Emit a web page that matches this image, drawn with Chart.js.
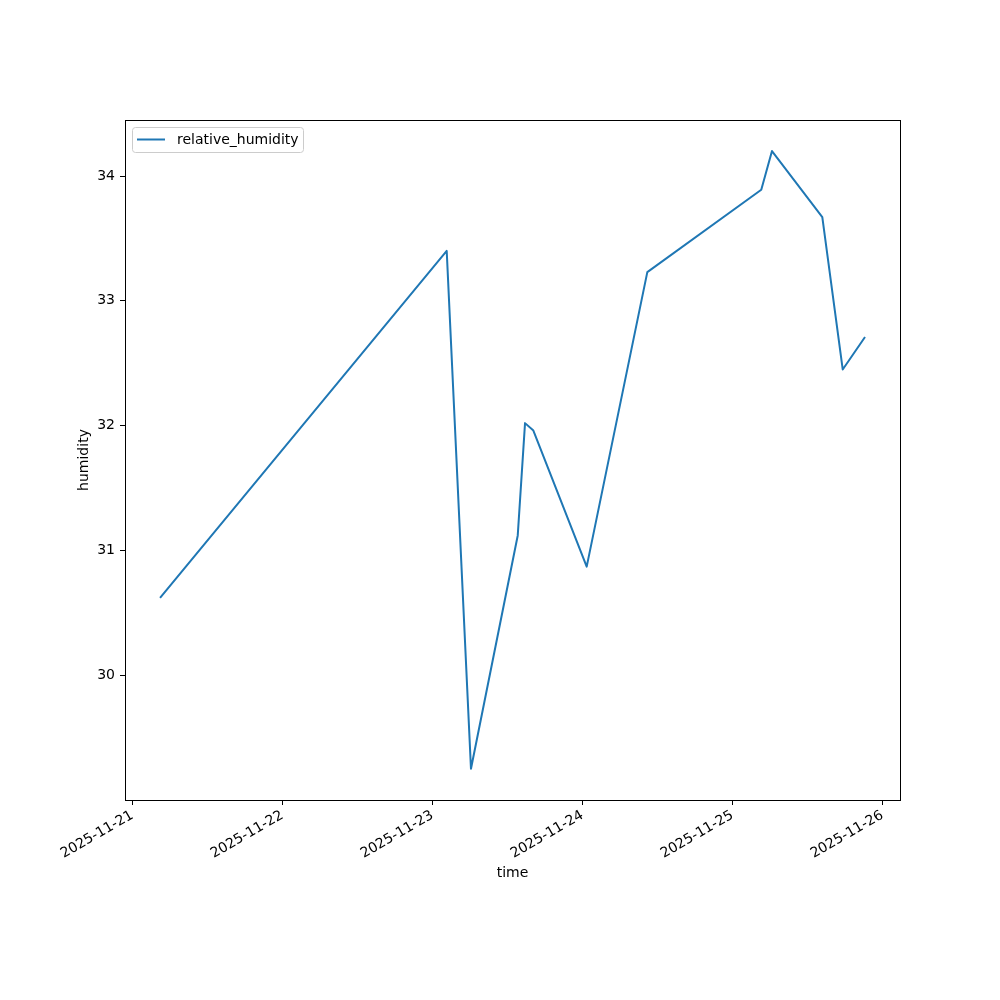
<!DOCTYPE html>
<html>
<head>
<meta charset="utf-8">
<script src="https://cdn.jsdelivr.net/npm/chart.js@4.4.1/dist/chart.umd.min.js"></script>
<style>
  html, body { margin: 0; padding: 0; background: #fff; }
  #wrap { width: 1000px; height: 1000px; }
</style>
</head>
<body>
<div id="wrap"><canvas id="myChart" width="1000" height="1000"></canvas></div>
<script>
// data
const times = [
  "2025-11-21T04:26", "2025-11-23T02:18", "2025-11-23T06:11", "2025-11-23T13:40",
  "2025-11-23T14:50", "2025-11-23T16:10", "2025-11-24T00:42", "2025-11-24T10:24",
  "2025-11-25T04:38", "2025-11-25T06:21", "2025-11-25T14:24", "2025-11-25T17:40",
  "2025-11-25T21:14"
];
const humidity = [30.62, 33.40, 29.25, 31.12, 32.02, 31.96, 30.87, 33.23, 33.89, 34.20, 33.67, 32.45, 32.71];
const dayTicks = ["2025-11-21", "2025-11-22", "2025-11-23", "2025-11-24", "2025-11-25", "2025-11-26"];
const yTicks = [30, 31, 32, 33, 34];
const seriesLabel = "relative_humidity";

const DAY = 86400000;
const toMs = (s) => new Date(s + (s.length > 10 ? ":00Z" : "T00:00:00Z")).getTime();
const points = times.map((t, i) => ({ x: toMs(t), y: humidity[i] }));
const day0 = toMs(dayTicks[0]);
const FONT = "'DejaVu Sans', sans-serif";

// frame + legend box, matplotlib style
const framePlugin = {
  id: 'frame',
  afterDraw(chart) {
    const { ctx, chartArea: a } = chart;
    ctx.save();
    ctx.strokeStyle = '#000';
    ctx.lineWidth = 1;
    ctx.strokeRect(a.left + 0.5, a.top + 0.5, a.right - a.left, a.bottom - a.top);

    // legend
    const x = a.left + 7, y = a.top + 7, w = 171, h = 25;
    ctx.beginPath();
    ctx.roundRect(x + 0.5, y + 0.5, w, h, 3);
    ctx.fillStyle = 'rgba(255,255,255,0.8)';
    ctx.fill();
    ctx.strokeStyle = '#cccccc';
    ctx.stroke();
    ctx.beginPath();
    ctx.moveTo(x + 5, y + 12.5);
    ctx.lineTo(x + 33, y + 12.5);
    ctx.strokeStyle = '#1f77b4';
    ctx.lineWidth = 2;
    ctx.stroke();
    ctx.fillStyle = '#000';
    ctx.font = '14px ' + FONT;
    ctx.textBaseline = 'middle';
    ctx.fillText(seriesLabel, x + 45, y + 13);
    ctx.restore();
  }
};

const config = {
  type: 'line',
  data: {
    datasets: [{
      label: seriesLabel,
      data: points,
      borderColor: '#1f77b4',
      borderWidth: 2,
      borderJoinStyle: 'round',
      pointRadius: 0,
      tension: 0,
      fill: false
    }]
  },
  options: {
    responsive: false,
    animation: false,
    layout: { padding: { left: 70, right: 100, top: 120, bottom: 110 } },
    plugins: { legend: { display: false }, tooltip: { enabled: false } },
    scales: {
      x: {
        type: 'linear',
        min: day0 - 0.049 * DAY,
        max: day0 + 5.118 * DAY,
        afterFit: (s) => { s.height = 90; },
        afterBuildTicks: (s) => { s.ticks = dayTicks.map(d => ({ value: toMs(d) })); },
        grid: { drawOnChartArea: false, drawTicks: true, tickLength: 5, color: '#000', tickColor: '#000' },
        border: { color: '#000' },
        ticks: {
          minRotation: 30, maxRotation: 30, padding: 2, color: '#000',
          font: { family: FONT, size: 14 },
          callback: (v) => new Date(v).toISOString().slice(0, 10)
        },
        title: { display: true, text: 'time', color: '#000', font: { family: FONT, size: 14 }, padding: { top: 0, bottom: 8.6 } }
      },
      y: {
        min: 29.0,
        max: 34.449,
        afterFit: (s) => { s.width = 55; },
        afterBuildTicks: (s) => { s.ticks = yTicks.map(v => ({ value: v })); },
        grid: { drawOnChartArea: false, drawTicks: true, tickLength: 5, color: '#000', tickColor: '#000' },
        border: { color: '#000' },
        ticks: { padding: 5, color: '#000', font: { family: FONT, size: 14 } },
        title: { display: true, text: 'humidity', color: '#000', font: { family: FONT, size: 14 }, padding: { top: 5.6, bottom: 0 } }
      }
    }
  },
  plugins: [framePlugin]
};

const context = document.getElementById('myChart').getContext('2d');
const chart = new Chart(context, config);
</script>
</body>
</html>
